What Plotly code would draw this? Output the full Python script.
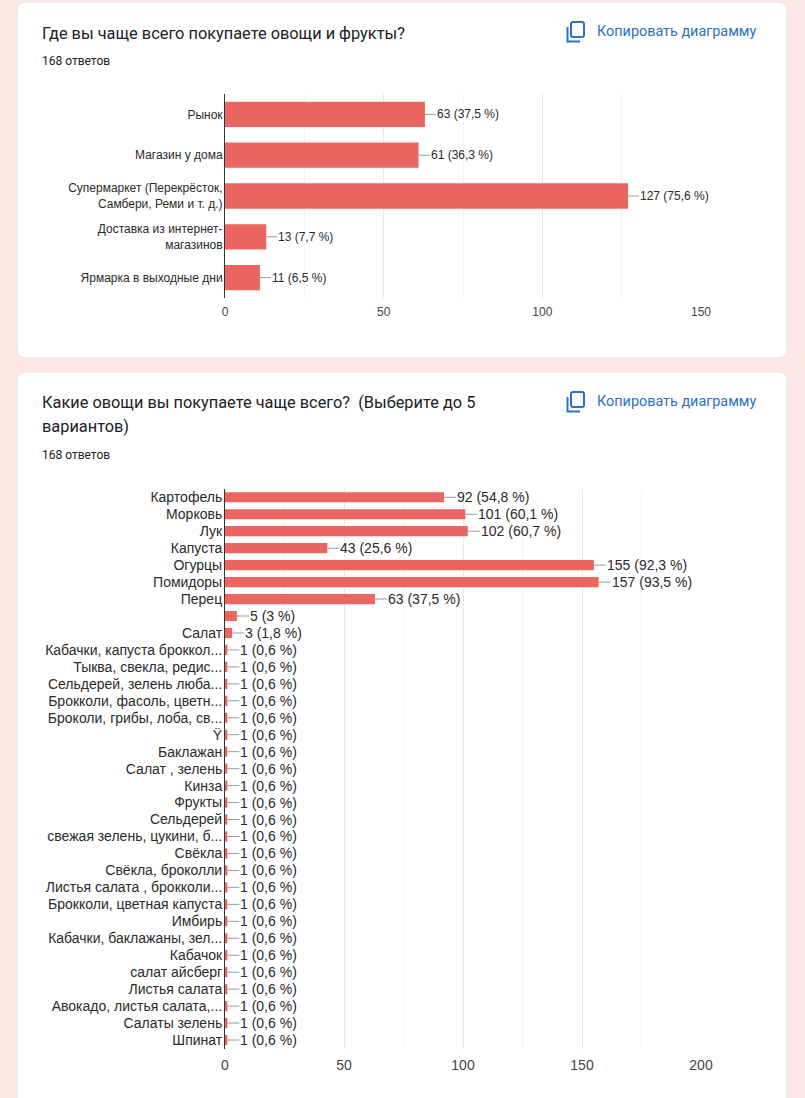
import plotly.graph_objects as go

W, H = 805, 1098

# ---- data ----
title_1 = "Где вы чаще всего покупаете овощи и фрукты?"
answers_1 = "168 ответов"
categories_1 = ["Рынок", "Магазин у дома", "Супермаркет (Перекрёсток,<br>Самбери, Реми и т. д.)",
                "Доставка из интернет-<br>магазинов", "Ярмарка в выходные дни"]
values_1 = [63, 61, 127, 13, 11]
labels_1 = ["63 (37,5 %)", "61 (36,3 %)", "127 (75,6 %)", "13 (7,7 %)", "11 (6,5 %)"]

title_2a = "Какие овощи вы покупаете чаще всего?  (Выберите до 5"
title_2b = "вариантов)"
answers_2 = "168 ответов"
categories_2 = ["Картофель", "Морковь", "Лук", "Капуста", "Огурцы", "Помидоры", "Перец", " ", "Салат",
                "Кабачки, капуста броккол...", "Тыква, свекла, редис...", "Сельдерей, зелень люба...",
                "Брокколи, фасоль, цветн...", "Броколи, грибы, лоба, св...", "Ÿ", "Баклажан", "Салат , зелень",
                "Кинза", "Фрукты", "Сельдерей", "свежая зелень, цукини, б...", "Свёкла", "Свёкла, броколли",
                "Листья салата , брокколи...", "Брокколи, цветная капуста", "Имбирь",
                "Кабачки, баклажаны, зел...", "Кабачок", "салат айсберг", "Листья салата",
                "Авокадо, листья салата,...", "Салаты зелень", "Шпинат"]
values_2 = [92, 101, 102, 43, 155, 157, 63, 5, 3] + [1] * 24
labels_2 = ["92 (54,8 %)", "101 (60,1 %)", "102 (60,7 %)", "43 (25,6 %)", "155 (92,3 %)", "157 (93,5 %)",
            "63 (37,5 %)", "5 (3 %)", "3 (1,8 %)"] + ["1 (0,6 %)"] * 24
copy_text = "Копировать диаграмму"

# ---- style ----
PAGE = "#fde8e8"
BAR = "#eb6660"
INK = "#202124"
BLUE = "#2a72c4"
LABEL = "#2a2a2a"
TICK = "#444444"
GRID = "#e8e8e8"
MINOR = "#f4f4f4"
FONT = "Liberation Sans"
UI = "Roboto"


def px(x):
    return x / W


def py(y):
    return 1 - y / H


def rounded(x0, y0, x1, y1, r):
    a, b, c, d = px(x0), py(y0), px(x1), py(y1)
    rx, ry = r / W, r / H
    return (f"M{a + rx},{b} L{c - rx},{b} Q{c},{b} {c},{b - ry} L{c},{d + ry} Q{c},{d} {c - rx},{d} "
            f"L{a + rx},{d} Q{a},{d} {a},{d + ry} L{a},{b - ry} Q{a},{b} {a + rx},{b} Z")


fig = go.Figure()
fig.add_trace(go.Bar(y=categories_1, x=values_1, orientation="h", marker=dict(color=BAR, line_width=0),
                     width=0.62, xaxis="x", yaxis="y", hoverinfo="skip"))
fig.add_trace(go.Bar(y=categories_2, x=values_2, orientation="h", marker=dict(color=BAR, line_width=0),
                     width=0.6, xaxis="x2", yaxis="y2", hoverinfo="skip"))

shapes = []
for box in [(17, 2, 787, 358), (17, 372, 787, 1110)]:
    shapes.append(dict(type="path", path=rounded(*box, 9), xref="paper", yref="paper", fillcolor="white",
                       line=dict(color="#ece3e3", width=1), layer="below"))
for top in (22, 392):
    shapes.append(dict(type="path", xref="paper", yref="paper", line=dict(color=BLUE, width=2),
                       path=rounded(571, top, 584, top + 15, 2)))
    shapes.append(dict(type="path", xref="paper", yref="paper", line=dict(color=BLUE, width=2),
                       path=f"M{px(567.5)},{py(top + 5)} L{px(567.5)},{py(top + 19.5)} L{px(580)},{py(top + 19.5)}"))


def note(x, y, text, size, color=INK, family=UI, anchor="left"):
    return dict(x=px(x), y=py(y), xref="paper", yref="paper", text=text, showarrow=False, xanchor=anchor,
                yanchor="middle", font=dict(size=size, color=color, family=family))


annotations = [
    note(40, 33, title_1, 16.35),
    note(40, 61, answers_1, 12),
    note(595, 32, copy_text, 14.4, BLUE),
    note(40, 403, title_2a, 16.35),
    note(40, 427, title_2b, 16.35),
    note(40, 455, answers_2, 12),
    note(595, 402, copy_text, 14.4, BLUE),
]


def value_notes(cats, vals, labs, xref, yref, size, lead):
    return [dict(x=v, y=c, xref=xref, yref=yref, text=t, xanchor="left", yanchor="middle", showarrow=True,
                 axref="pixel", ayref="pixel", ax=lead, ay=0, arrowhead=0, arrowwidth=1, arrowcolor="#9a9a9a",
                 standoff=0, startstandoff=0, borderpad=0, font=dict(size=size, color=LABEL, family=FONT))
            for c, v, t in zip(cats, vals, labs)]


annotations += value_notes(categories_1, values_1, labels_1, "x", "y", 12, 11)
annotations += value_notes(categories_2, values_2, labels_2, "x2", "y2", 14, 12)


def xaxis(domain, anchor, ticks, upper, size, standoff):
    return dict(domain=domain, anchor=anchor, range=[0, upper], tickvals=ticks, ticktext=[str(t) for t in ticks],
                showgrid=True, gridcolor=GRID, gridwidth=1, zeroline=False, showline=False, ticks="",
                ticklabelstandoff=standoff,
                minor=dict(tickvals=[v for v in range(25, upper, 50)], showgrid=True, gridcolor=MINOR, ticks=""),
                tickfont=dict(size=size, color=TICK, family=FONT), fixedrange=True)


def yaxis(domain, anchor, cats, size):
    return dict(domain=domain, anchor=anchor, type="category", categoryorder="array", categoryarray=cats,
                autorange=False, range=[len(cats) - 0.5, -0.5], showgrid=False, zeroline=False, showline=True,
                linecolor="#333333", linewidth=1, ticks="", ticklabelstandoff=-1,
                tickmode="array", tickvals=cats, ticktext=cats,
                tickfont=dict(size=size, color=LABEL, family=FONT), fixedrange=True, automargin=False)


fig.update_layout(
    width=W, height=H, autosize=False, margin=dict(l=0, r=0, t=0, b=0, autoexpand=False),
    paper_bgcolor=PAGE, plot_bgcolor="rgba(0,0,0,0)", showlegend=False, bargap=0.38,
    shapes=shapes, annotations=annotations,
    xaxis=xaxis([px(225), px(701)], "y", [0, 50, 100, 150], 150, 12, 5),
    yaxis=yaxis([py(298), py(94)], "x", categories_1, 12),
    xaxis2=xaxis([px(225), px(701)], "y2", [0, 50, 100, 150, 200], 200, 14, 6),
    yaxis2=yaxis([py(1048.5), py(488.8)], "x2", categories_2, 14),
)

fig.write_html("out.html", config=dict(displayModeBar=False),
               post_script="document.body.style.margin='0';document.body.style.overflow='hidden';")
